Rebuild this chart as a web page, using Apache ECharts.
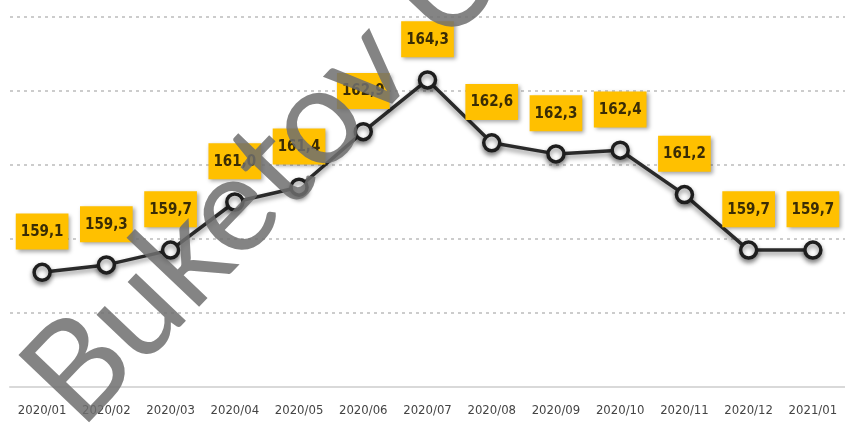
<!DOCTYPE html>
<html>
<head>
<meta charset="utf-8">
<script src="https://cdn.jsdelivr.net/npm/echarts@6/dist/echarts.min.js"></script>
<style>
html,body{margin:0;padding:0;background:#fff;}
#c{width:845px;height:427px;}
</style>
</head>
<body>
<div id="c"></div>
<script>
const categories = ['2020/01','2020/02','2020/03','2020/04','2020/05','2020/06','2020/07','2020/08','2020/09','2020/10','2020/11','2020/12','2021/01'];
const values = [159.1, 159.3, 159.7, 161.0, 161.4, 162.9, 164.3, 162.6, 162.3, 162.4, 161.2, 159.7, 159.7];
const watermarkText = 'Buketov University';

const chart = echarts.init(document.getElementById('c'), null, {renderer: 'canvas'});
const narrow = "'Liberation Sans Narrow','DejaVu Sans Condensed','Roboto Condensed',sans-serif";
chart.setOption({
  backgroundColor: '#ffffff',
  animation: false,
  grid: {left: 10, right: -4, top: 17, bottom: 40},
  xAxis: {
    type: 'category',
    data: categories,
    boundaryGap: true,
    axisLine: {lineStyle: {color: '#d9d9d9', width: 2}},
    axisTick: {show: false},
    axisLabel: {color: '#444444', fontFamily: narrow, fontSize: 13, margin: 17}
  },
  yAxis: {
    type: 'value',
    min: 156, max: 166, interval: 2,
    axisLine: {show: false},
    axisTick: {show: false},
    axisLabel: {show: false},
    splitLine: {lineStyle: {color: '#cccccc', width: 2, type: [3, 4]}}
  },
  series: [{
    type: 'line',
    data: values,
    symbol: 'circle',
    symbolSize: 16,
    lineStyle: {color: '#2a2a2a', width: 3.5, shadowBlur: 5, shadowColor: 'rgba(0,0,0,0.45)', shadowOffsetY: 3},
    itemStyle: {color: '#ffffff', borderColor: '#1e1e1e', borderWidth: 3.5, shadowBlur: 5, shadowColor: 'rgba(0,0,0,0.45)', shadowOffsetY: 3},
    label: {
      show: true,
      position: 'top',
      distance: 13,
      formatter: p => p.value.toFixed(1).replace('.', ','),
      color: '#3a2c05',
      fontFamily: narrow,
      fontWeight: 'bold',
      fontSize: 15,
      backgroundColor: '#FFC000',
      padding: [11, 5, 10, 5],
      shadowBlur: 4,
      shadowColor: 'rgba(0,0,0,0.35)',
      shadowOffsetX: 2,
      shadowOffsetY: 2
    }
  }],
  graphic: [{
    type: 'text',
    x: 98, y: 448,
    rotation: 0.81,
    silent: true,
    z: 100,
    style: {
      text: watermarkText,
      font: "400 136px Lato, 'Liberation Sans', sans-serif",
      fill: 'rgba(110,110,110,0.85)',
      textAlign: 'left',
      textVerticalAlign: 'bottom'
    }
  }]
});
</script>
</body>
</html>
